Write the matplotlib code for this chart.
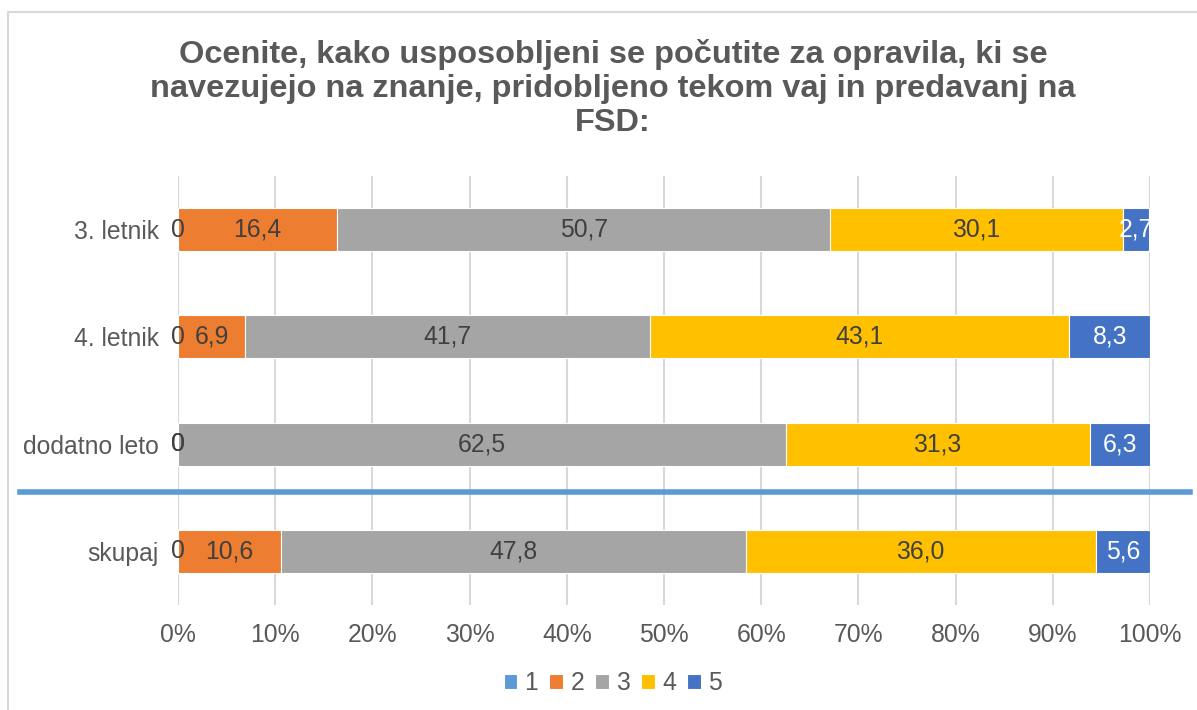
import numpy as np
import matplotlib as mpl
import matplotlib.pyplot as plt
from matplotlib.lines import Line2D

mpl.rcParams['font.family'] = ['Liberation Sans', 'DejaVu Sans']

categories = ['3. letnik', '4. letnik', 'dodatno leto', 'skupaj']
series_names = ['1', '2', '3', '4', '5']
s1 = [0.0, 0.0, 0.0, 0.0]
s2 = [16.4, 6.9, 0.0, 10.6]
s3 = [50.7, 41.7, 62.5, 47.8]
s4 = [30.1, 43.1, 31.3, 36.0]
s5 = [2.7, 8.3, 6.3, 5.6]
xticks = [0, 10, 20, 30, 40, 50, 60, 70, 80, 90, 100]
title = ('Ocenite, kako usposobljeni se počutite za opravila, ki se\n'
         'navezujejo na znanje, pridobljeno tekom vaj in predavanj na\nFSD:')

colors = ['#5B9BD5', '#ED7D31', '#A5A5A5', '#FFC000', '#4472C4']
txt_colors = ['#404040', '#404040', '#404040', '#404040', 'white']
grey = '#595959'
fs = 17.8

fig = plt.figure(figsize=(11.97, 7.10), dpi=100, facecolor='white')
ax = fig.add_axes([178/1197, 1-605/710, 972/1197, 429/710])

data = np.array([s1, s2, s3, s4, s5])
y = np.arange(len(categories))
left = np.zeros(len(categories))
for i, name in enumerate(series_names):
    vals = data[i]
    ax.barh(y, vals, left=left, height=0.4, color=colors[i], label=name,
            edgecolor='white', linewidth=0.8, zorder=3)
    for yy, l, v in zip(y, left, vals):
        ax.text(l + v/2, yy, ('%.1f' % v).replace('.', ',') if v else '0',
                ha='center', va='center', fontsize=fs, color=txt_colors[i], zorder=4)
    left = left + vals

ax.set_xlim(0, 100)
ax.set_ylim(len(categories) - 0.5, -0.5)
ax.set_yticks(y)
ax.set_yticklabels(categories, fontsize=fs, color=grey)
ax.set_xticks(xticks)
ax.set_xticklabels(['%d%%' % t for t in xticks], fontsize=fs, color=grey)
ax.tick_params(length=0, pad=13)
ax.tick_params(axis='y', pad=14)
ax.xaxis.grid(True, color='#D9D9D9', linewidth=1.5, zorder=0)
ax.set_axisbelow(True)
for sp in ax.spines.values():
    sp.set_visible(False)

# separator between years and total
fig.add_artist(Line2D([20/1197, 1190/1197], [1-492/710, 1-492/710],
                      color='#5B9BD5', linewidth=4))
# chart border (left and top)
fig.add_artist(Line2D([8/1197, 8/1197, 1.0], [0.0, 1-12/710, 1-12/710],
                      color='#D9D9D9', linewidth=1.5))

fig.text(0.512, 1-39/710, title, ha='center', va='top', fontsize=23.4,
         fontweight='bold', color=grey, linespacing=1.18)

handles, labels = ax.get_legend_handles_labels()
fig.legend(handles, labels, loc='center', bbox_to_anchor=(0.512, 1-683/710),
           ncol=5, frameon=False, fontsize=fs, handlelength=0.55, handleheight=0.55,
           handletextpad=0.3, columnspacing=0.45, labelcolor=grey)

plt.savefig('out.png', dpi=100, facecolor='white')
